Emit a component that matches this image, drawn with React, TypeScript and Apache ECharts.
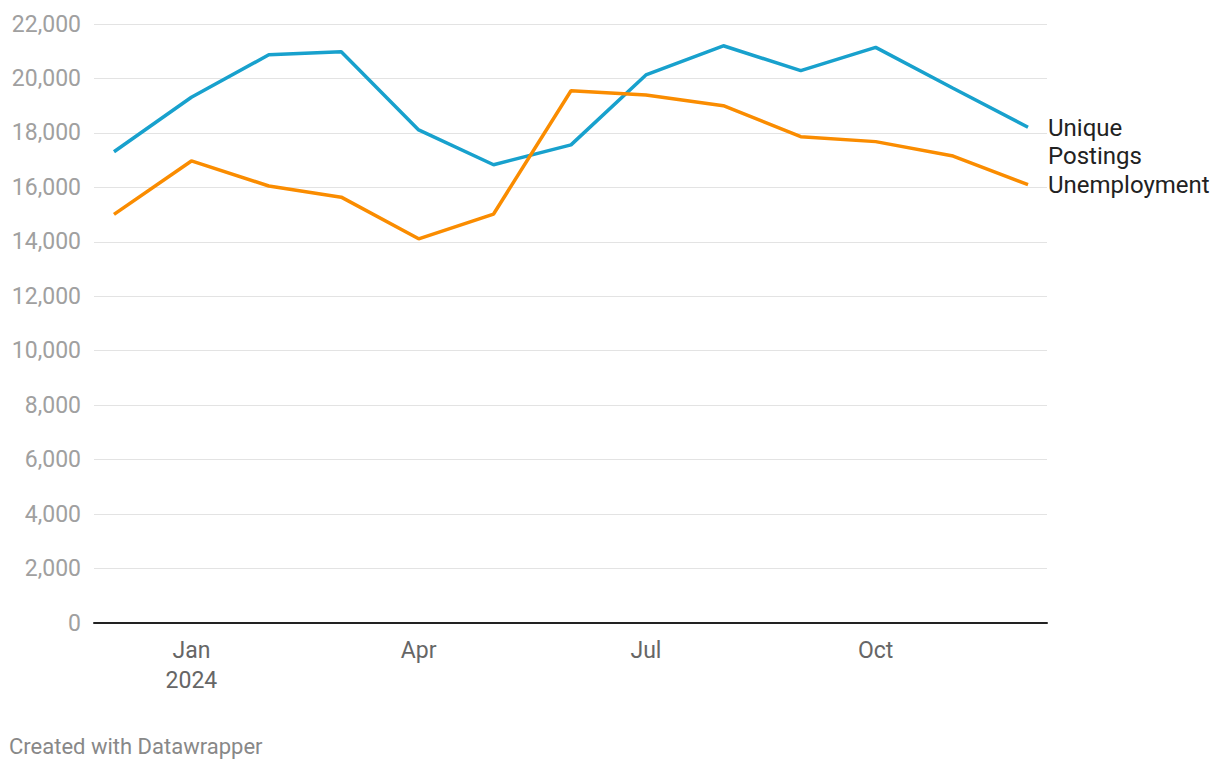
import React, { useEffect, useRef } from "react";
import * as echarts from "echarts";

const months: string[] = [
  "2023-12-01", "2024-01-01", "2024-02-01", "2024-03-01", "2024-04-01", "2024-05-01",
  "2024-06-01", "2024-07-01", "2024-08-01", "2024-09-01", "2024-10-01", "2024-11-01", "2024-12-01",
];
const uniquePostings: number[] = [17310, 19310, 20870, 20980, 18110, 16830, 17560, 20130, 21200, 20290, 21140, 19640, 18210];
const unemployment: number[] = [15010, 16970, 16050, 15640, 14110, 15020, 19550, 19390, 19000, 17860, 17680, 17150, 16100];
const tickMonths: string[] = ["2024-01-01", "2024-04-01", "2024-07-01", "2024-10-01"];
const monthNames: string[] = ["Jan", "Feb", "Mar", "Apr", "May", "Jun", "Jul", "Aug", "Sep", "Oct", "Nov", "Dec"];

const ts = (s: string) => {
  const [y, m, d] = s.split("-").map(Number);
  return Date.UTC(y, m - 1, d);
};

export default function App() {
  const ref = useRef<HTMLDivElement>(null);
  useEffect(() => {
    if (!ref.current) return;
    const chart = echarts.init(ref.current, undefined, { renderer: "svg" });
    const font = "Roboto";
    const xMin = ts("2023-12-01") - 8 * 86400000;
    const xMax = ts("2024-12-01") + 7.6 * 86400000;
    chart.setOption({
      animation: false,
      textStyle: { fontFamily: font },
      title: {
        text: "Created with Datawrapper",
        left: 4,
        top: 730,
        textStyle: { fontFamily: font, fontSize: 22, fontWeight: "normal", color: "#888888" },
      },
      grid: { left: 94, right: 173, top: 24, bottom: 147 },
      xAxis: {
        type: "value",
        min: xMin,
        max: xMax,
        axisLine: { show: true, onZero: false, lineStyle: { color: "#222222", width: 2 } },
        axisTick: { show: false },
        splitLine: { show: false },
        axisLabel: {
          customValues: tickMonths.map(ts),
          margin: 12,
          fontFamily: font,
          fontSize: 23,
          lineHeight: 30,
          color: "#666666",
          formatter: (v: number) => {
            const d = new Date(v);
            const m = monthNames[d.getUTCMonth()];
            return d.getUTCMonth() === 0 ? m + "\n" + d.getUTCFullYear() : m;
          },
        },
      },
      yAxis: {
        type: "value",
        min: 0,
        max: 22000,
        interval: 2000,
        axisLine: { show: false },
        axisTick: { show: false },
        splitLine: { lineStyle: { color: "#e3e3e3", width: 1 } },
        axisLabel: {
          margin: 13,
          fontFamily: font,
          fontSize: 23,
          color: "#a0a0a0",
          formatter: (v: number) => v.toLocaleString("en-US"),
        },
      },
      series: [
        {
          name: "Unique Postings",
          type: "line",
          data: months.map((m, i) => [ts(m), uniquePostings[i]]),
          showSymbol: false,
          lineStyle: { color: "#18a1cd", width: 3.5 },
          itemStyle: { color: "#18a1cd" },
          endLabel: {
            show: true,
            formatter: () => "Unique\nPostings",
            distance: 20,
            offset: [0, 15],
            fontFamily: font,
            fontSize: 24,
            lineHeight: 28,
            color: "#222222",
            align: "left",
          },
        },
        {
          name: "Unemployment",
          type: "line",
          data: months.map((m, i) => [ts(m), unemployment[i]]),
          showSymbol: false,
          lineStyle: { color: "#fa8c00", width: 3.5 },
          itemStyle: { color: "#fa8c00" },
          endLabel: {
            show: true,
            formatter: () => "Unemployment",
            distance: 20,
            fontFamily: font,
            fontSize: 24,
            lineHeight: 28,
            color: "#222222",
            align: "left",
          },
        },
      ],
    });
    return () => chart.dispose();
  }, []);
  return (
    <div
      ref={ref}
      style={{ position: "absolute", left: 0, top: 0, width: 1220, height: 770, background: "#ffffff" }}
    />
  );
}
